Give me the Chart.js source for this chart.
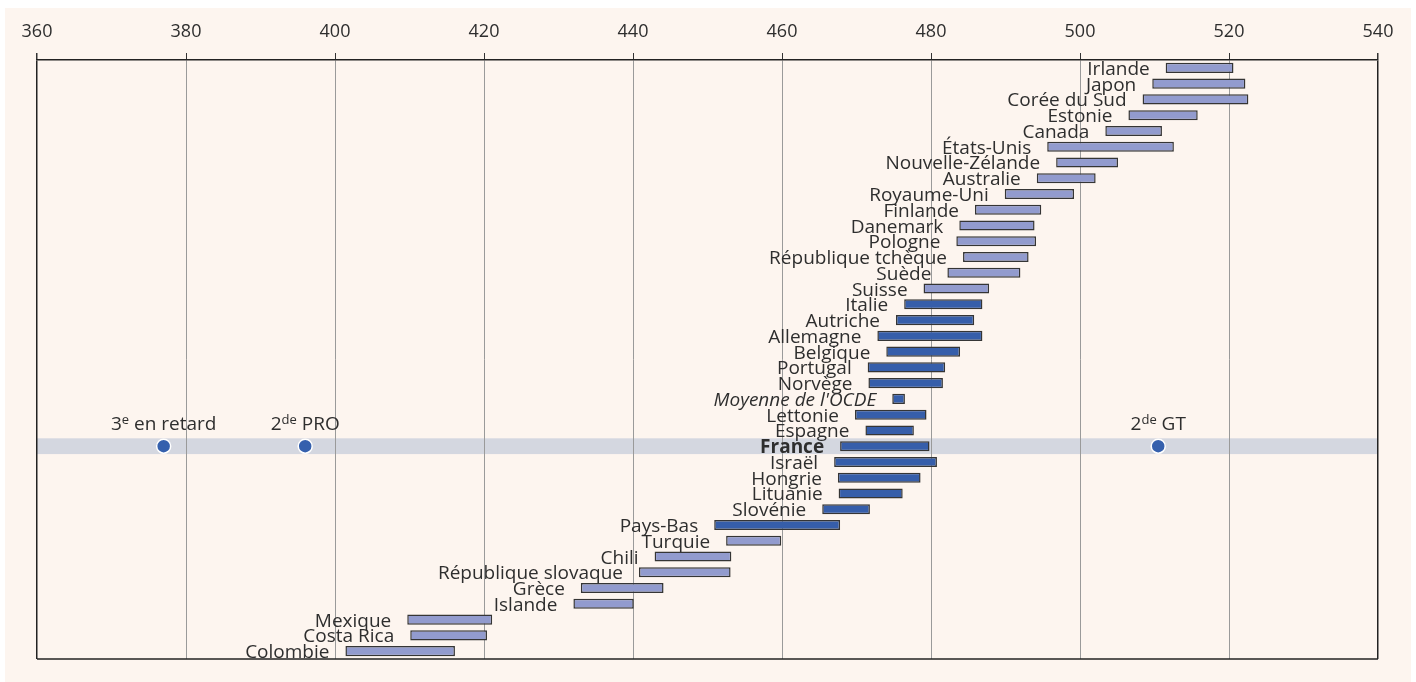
<!DOCTYPE html>
<html lang="fr">
<head>
    <meta charset="UTF-8">
    <title>Scores par pays</title>
    <style>
        html, body {
            margin: 0;
            padding: 0;
            background-color: #fff;
        }
        .chart-wrapper {
            position: absolute;
            left: 5px;
            top: 8px;
            width: 1406px;
            height: 674px;
            background-color: #fdf5ef;
        }
    </style>
</head>
<body>
    <div class="chart-wrapper">
        <canvas id="scoreChart"></canvas>
    </div>

    <script src="https://cdn.jsdelivr.net/npm/chart.js"></script>
    <script>
        // --- Data ---
        const categories = [
            'Irlande', 'Japon', 'Corée du Sud', 'Estonie', 'Canada', 'États-Unis',
            'Nouvelle-Zélande', 'Australie', 'Royaume-Uni', 'Finlande', 'Danemark',
            'Pologne', 'République tchèque', 'Suède', 'Suisse', 'Italie', 'Autriche',
            'Allemagne', 'Belgique', 'Portugal', 'Norvège', "Moyenne de l'OCDE",
            'Lettonie', 'Espagne', 'France', 'Israël', 'Hongrie', 'Lituanie',
            'Slovénie', 'Pays-Bas', 'Turquie', 'Chili', 'République slovaque',
            'Grèce', 'Islande', 'Mexique', 'Costa Rica', 'Colombie'
        ];
        const lowScores = [
            511.5, 509.7, 508.4, 506.5, 503.4, 495.6,
            496.8, 494.2, 489.9, 485.9, 483.8,
            483.4, 484.3, 482.2, 479.0, 476.4, 475.3,
            472.8, 474.0, 471.5, 471.6, 474.8,
            469.8, 471.2, 467.8, 467.0, 467.5, 467.6,
            465.4, 450.9, 452.5, 442.9, 440.8,
            433.0, 432.0, 409.7, 410.1, 401.4
        ];
        const highScores = [
            520.6, 522.2, 522.6, 515.8, 511.0, 512.6,
            505.1, 502.1, 499.2, 494.8, 493.9,
            494.1, 493.1, 492.0, 487.8, 486.9, 485.8,
            486.9, 483.9, 481.9, 481.6, 476.5,
            479.4, 477.7, 479.8, 480.8, 478.6, 476.2,
            471.8, 467.8, 459.9, 453.2, 453.1,
            444.1, 440.1, 421.1, 420.4, 416.1
        ];
        // true = not significantly different from France
        const nearFrance = [
            false, false, false, false, false, false,
            false, false, false, false, false,
            false, false, false, false, true, true,
            true, true, true, true, true,
            true, true, true, true, true, true,
            true, true, false, false, false,
            false, false, false, false, false
        ];
        const markerLabels = [['3', 'e', ' en retard'], ['2', 'de', ' PRO'], ['2', 'de', ' GT']];
        const markerScores = [377, 396, 510.5];
        const xTicksMin = 360, xTicksMax = 540, xTickStep = 20;

        const FONT = "'Open Sans', 'Noto Sans', sans-serif";
        const TEXT = '#2e2e2e';
        const LIGHT = '#929bce';
        const DARK = '#365eaa';

        // band behind the France row, drawn before the grid
        const bandPlugin = {
            id: 'franceBand',
            beforeDraw(chart) {
                const y = chart.scales.y;
                const area = chart.chartArea;
                const idx = categories.indexOf('France');
                const h = area.height / categories.length;
                const cy = y.getPixelForValue(idx);
                const ctx = chart.ctx;
                ctx.save();
                ctx.fillStyle = '#d4d7e0';
                ctx.fillRect(area.left, cy - h / 2, area.right - area.left, h);
                ctx.restore();
            }
        };

        function drawRich(ctx, parts, cx, baseline) {
            const normal = '19px ' + FONT;
            const small = '13px ' + FONT;
            let widths = parts.map((p, i) => {
                ctx.font = i === 1 ? small : normal;
                return ctx.measureText(p).width;
            });
            let x = cx - widths.reduce((a, b) => a + b, 0) / 2;
            parts.forEach((p, i) => {
                ctx.font = i === 1 ? small : normal;
                ctx.fillText(p, x, i === 1 ? baseline - 6 : baseline);
                x += widths[i];
            });
        }

        const labelPlugin = {
            id: 'barLabels',
            afterDatasetsDraw(chart) {
                const ctx = chart.ctx;
                const area = chart.chartArea;
                ctx.save();
                ctx.fillStyle = TEXT;
                ctx.textAlign = 'right';
                ctx.textBaseline = 'alphabetic';
                chart.getDatasetMeta(0).data.forEach((el, i) => {
                    const name = categories[i];
                    let style = '';
                    if (name === 'France') style = 'bold ';
                    if (name.startsWith('Moyenne')) style = 'italic ';
                    ctx.font = style + '19px ' + FONT;
                    const left = Math.min(el.x, el.base);
                    ctx.fillText(name, left - 16, el.y + 7);
                });

                ctx.textAlign = 'left';
                chart.getDatasetMeta(1).data.forEach((pt, i) => {
                    drawRich(ctx, markerLabels[i], pt.x, pt.y - 16);
                });

                // bottom frame line
                ctx.strokeStyle = '#222';
                ctx.lineWidth = 1.5;
                ctx.beginPath();
                ctx.moveTo(area.left, area.bottom);
                ctx.lineTo(area.right, area.bottom);
                ctx.stroke();
                ctx.restore();
            }
        };

        const ctx = document.getElementById('scoreChart').getContext('2d');
        new Chart(ctx, {
            type: 'bar',
            data: {
                labels: categories,
                datasets: [{
                    data: lowScores.map((lo, i) => [lo, highScores[i]]),
                    backgroundColor: nearFrance.map(n => n ? DARK : LIGHT),
                    borderColor: '#353535',
                    borderWidth: 1.5,
                    borderSkipped: false,
                    barPercentage: 0.64,
                    categoryPercentage: 1
                }, {
                    type: 'line',
                    showLine: false,
                    data: markerScores.map(v => ({ x: v, y: 'France' })),
                    pointRadius: 7,
                    pointBackgroundColor: '#3560ad',
                    pointBorderColor: '#ffffff',
                    pointBorderWidth: 1.5
                }]
            },
            options: {
                indexAxis: 'y',
                responsive: true,
                maintainAspectRatio: false,
                animation: false,
                layout: { padding: { left: 32, right: 33, top: 0, bottom: 23 } },
                plugins: {
                    legend: { display: false },
                    tooltip: { enabled: false }
                },
                scales: {
                    x: {
                        type: 'linear',
                        position: 'top',
                        min: xTicksMin,
                        max: xTicksMax,
                        ticks: {
                            stepSize: xTickStep,
                            color: TEXT,
                            padding: 10,
                            font: { family: FONT, size: 18 }
                        },
                        grid: {
                            color: c => (c.tick && (c.tick.value === xTicksMin || c.tick.value === xTicksMax)) ? '#222' : '#9a9a9a',
                            tickColor: '#333',
                            tickLength: 7,
                            lineWidth: c => (c.tick && (c.tick.value === xTicksMin || c.tick.value === xTicksMax)) ? 1.5 : 1
                        },
                        border: { display: true, color: '#222', width: 1.5 },
                        afterFit: s => { s.height = 52; }
                    },
                    y: {
                        type: 'category',
                        display: false
                    }
                }
            },
            plugins: [bandPlugin, labelPlugin]
        });
    </script>
</body>
</html>
